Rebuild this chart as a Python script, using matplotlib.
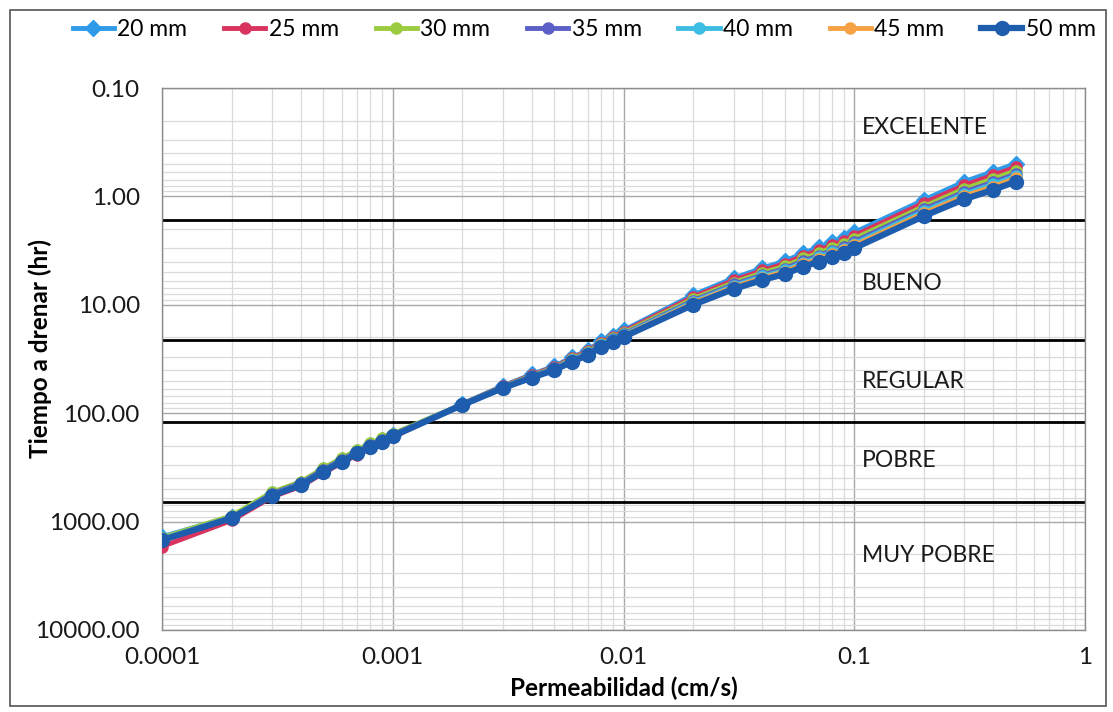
import numpy as np
import matplotlib
matplotlib.use("Agg")
import matplotlib.pyplot as plt
from matplotlib.ticker import FixedLocator, FuncFormatter, NullFormatter, LogLocator
from matplotlib.patches import Rectangle

plt.rcParams['font.family'] = ['Lato', 'DejaVu Sans']

# permeability (cm/s)
k = [0.0001, 0.0002, 0.0003, 0.0004, 0.0005, 0.0006, 0.0007, 0.0008, 0.0009, 0.001,
     0.002, 0.003, 0.004, 0.005, 0.006, 0.007, 0.008, 0.009, 0.01,
     0.02, 0.03, 0.04, 0.05, 0.06, 0.07, 0.08, 0.09, 0.1,
     0.2, 0.3, 0.4, 0.5]

# time to drain (hr) per layer thickness
t20 = [1380, 902, 558, 446, 336, 272, 228, 198, 178, 160,
       82.1, 56.0, 43.9, 36.9, 30.6, 26.2, 21.7, 19.3, 17.2,
       8.13, 5.68, 4.58, 3.95, 3.34, 2.96, 2.64, 2.42, 2.15,
       1.08, 0.73, 0.59, 0.50]
t25 = [1700, 977, 592, 474, 356, 288, 242, 210, 188, 166,
       82.5, 56.5, 44.5, 37.5, 31.1, 26.7, 22.3, 19.8, 17.7,
       8.47, 5.95, 4.82, 4.17, 3.53, 3.15, 2.81, 2.58, 2.30,
       1.15, 0.79, 0.636, 0.539]
t30 = [1410, 884, 535, 428, 322, 260, 219, 190, 170, 155,
       82.8, 57.0, 45.1, 38.1, 31.7, 27.3, 22.8, 20.3, 18.2,
       8.83, 6.23, 5.07, 4.40, 3.74, 3.34, 2.99, 2.75, 2.45,
       1.24, 0.85, 0.688, 0.581]
t35 = [1480, 930, 552, 442, 332, 269, 226, 196, 176, 158,
       83.2, 57.5, 45.6, 38.6, 32.2, 27.8, 23.3, 20.8, 18.7,
       9.16, 6.49, 5.31, 4.63, 3.94, 3.52, 3.16, 2.92, 2.61,
       1.31, 0.91, 0.739, 0.623]
t40 = [1450, 911, 564, 451, 339, 274, 230, 200, 179, 160,
       83.4, 57.8, 46.0, 39.0, 32.6, 28.1, 23.6, 21.1, 19.0,
       9.40, 6.67, 5.47, 4.78, 4.08, 3.66, 3.28, 3.03, 2.72,
       1.37, 0.949, 0.773, 0.651]
t45 = [1465, 921, 569, 455, 343, 277, 233, 202, 181, 161,
       83.7, 58.1, 46.4, 39.4, 33.0, 28.5, 23.9, 21.4, 19.3,
       9.63, 6.86, 5.63, 4.94, 4.22, 3.79, 3.40, 3.15, 2.83,
       1.43, 0.992, 0.811, 0.682]
t50 = [1480, 930, 575, 460, 346, 280, 235, 204, 183, 163,
       84.0, 58.6, 47.0, 40.0, 33.5, 29.0, 24.4, 21.9, 19.8,
       10.0, 7.15, 5.90, 5.20, 4.45, 4.00, 3.60, 3.34, 3.00,
       1.52, 1.06, 0.87, 0.73]

labels = ['20 mm', '25 mm', '30 mm', '35 mm', '40 mm', '45 mm', '50 mm']
colors = ['#2F9BE8', '#D8345F', '#9BCB3E', '#5B5FC6', '#3EBDE3', '#F6A244', '#1E5CAD']

# class limits (hr) and class names
limits = [1.65, 21, 120, 660]
classes = ['EXCELENTE', 'BUENO', 'REGULAR', 'POBRE', 'MUY POBRE']
class_y = [0.23, 6.4, 51.5, 275, 2075]

fig = plt.figure(figsize=(11.13, 7.12), dpi=100)
ax = fig.add_axes([0.1456, 0.1152, 0.8293, 0.7612])

ax.set_xscale('log')
ax.set_yscale('log')
ax.set_xlim(0.0001, 1)
ax.set_ylim(10000, 0.1)

ax.grid(True, which='major', color='#A8A8A8', lw=1.0)
ax.grid(True, which='minor', color='#DADADA', lw=0.9)
ax.xaxis.set_minor_locator(LogLocator(base=10, subs=np.arange(2, 10)))
ax.yaxis.set_minor_locator(LogLocator(base=10, subs=np.arange(2, 10)))
ax.xaxis.set_minor_formatter(NullFormatter())
ax.yaxis.set_minor_formatter(NullFormatter())
ax.set_axisbelow(True)

for lim in limits:
    ax.axhline(lim, color='black', lw=2.0, zorder=2)

series = [t20, t25, t30, t35, t40, t45, t50]
for i, (vals, lab, col) in enumerate(zip(series, labels, colors)):
    mk = 'D' if i == 0 else 'o'
    lw = 4.5 if i == 6 else 3.5
    ms = 10 if i == 6 else 8
    ax.plot(k, vals, color=col, lw=lw, marker=mk, ms=ms, label=lab, zorder=3 + i)

for name, yv in zip(classes, class_y):
    ax.text(0.108, yv, name, fontsize=16.5, va='center', ha='left', color='#1a1a1a')

ax.xaxis.set_major_locator(FixedLocator([0.0001, 0.001, 0.01, 0.1, 1]))
ax.xaxis.set_major_formatter(FuncFormatter(lambda v, p: '%g' % v))
ax.yaxis.set_major_locator(FixedLocator([0.1, 1, 10, 100, 1000, 10000]))
ax.yaxis.set_major_formatter(FuncFormatter(lambda v, p: '%.2f' % v))
ax.tick_params(axis='both', which='both', length=0, labelsize=17.5, colors='#1a1a1a')
ax.tick_params(axis='x', pad=12)
ax.tick_params(axis='y', pad=16)

for s in ax.spines.values():
    s.set_color('#8C8C8C')
    s.set_linewidth(1.0)

ax.set_xlabel('Permeabilidad (cm/s)', fontsize=17.5, fontweight='bold')
ax.set_ylabel('Tiempo a drenar (hr)', fontsize=17.5, fontweight='bold')
ax.xaxis.set_label_coords(0.5, -0.085)
ax.yaxis.set_label_coords(-0.119, 0.52)

fig.legend(loc='center', bbox_to_anchor=(0.525, 0.958), ncol=7, frameon=False,
           fontsize=16.5, handlelength=1.8, columnspacing=1.6, handletextpad=0.15,
           borderaxespad=0)

fig.patches.append(Rectangle((0.009, 0.008), 0.985, 0.978, transform=fig.transFigure,
                             fill=False, edgecolor='#555555', lw=1.2))

fig.savefig('out.png', dpi=100)
